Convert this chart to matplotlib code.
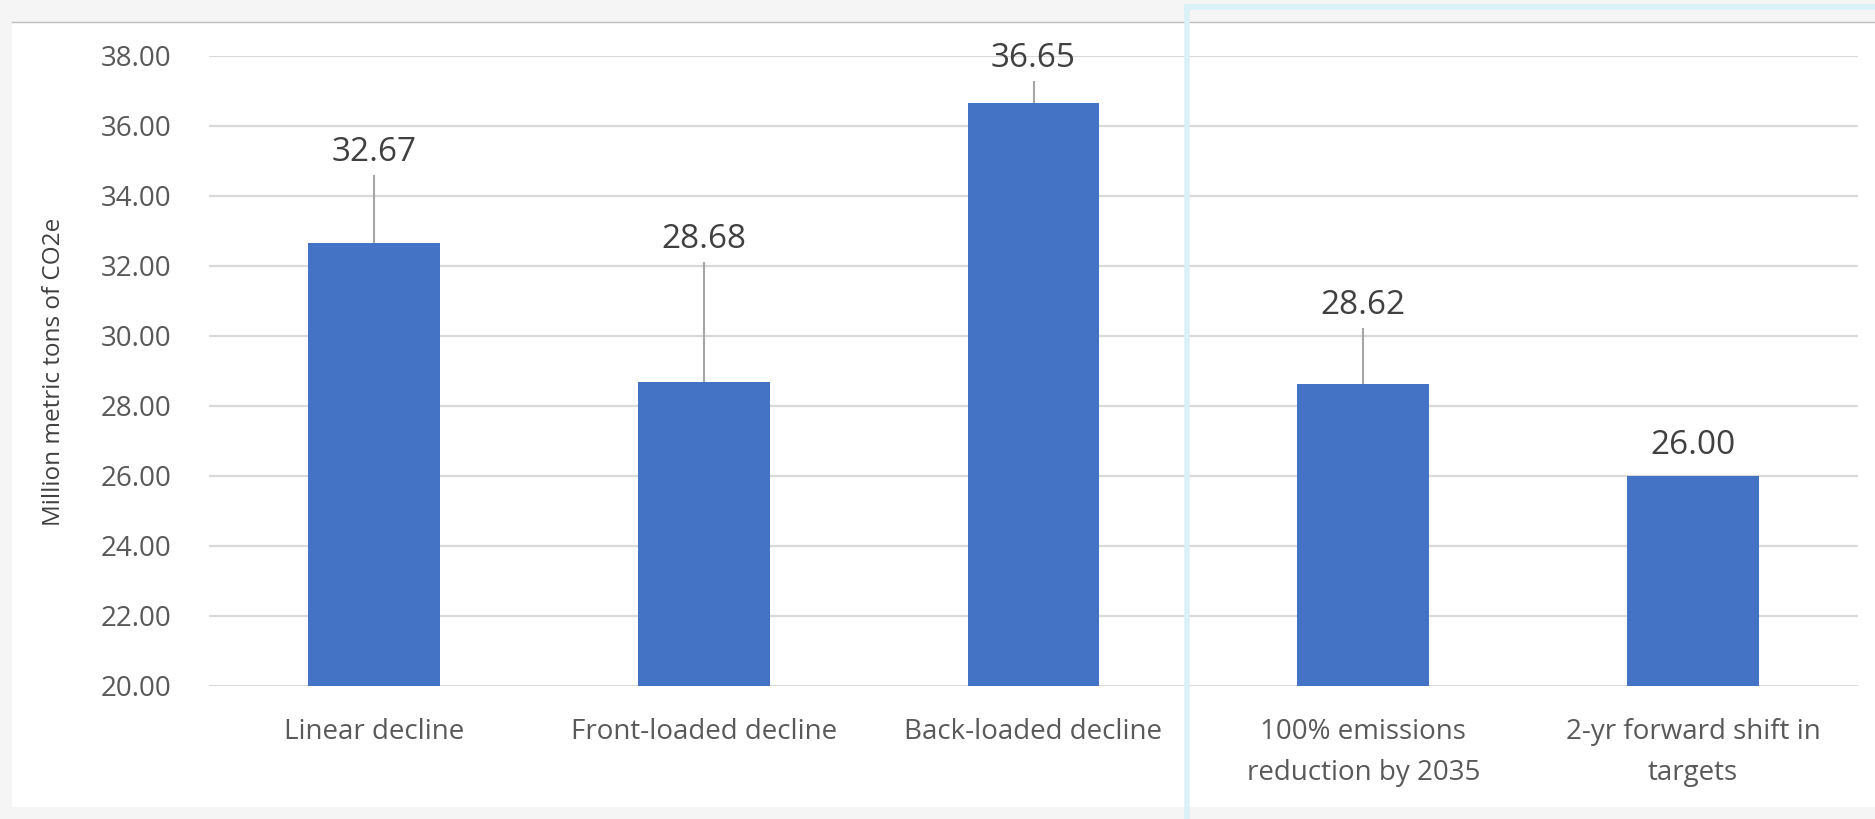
import matplotlib
matplotlib.use("Agg")
import matplotlib.pyplot as plt
from matplotlib.lines import Line2D
from matplotlib.patches import Rectangle

plt.rcParams['font.family'] = ['Open Sans', 'DejaVu Sans']

# Emisiones por escenario
escenarios = [
    "Linear decline",
    "Front-loaded decline",
    "Back-loaded decline",
    "100% emissions\nreduction by 2035",
    "2-yr forward shift in\ntargets",
]
emisiones = [32.67, 28.68, 36.65, 28.62, 26.00]
error_sup = [1.93, 3.43, 0.64, 1.60, 0.0]
ticks_y = [20, 22, 24, 26, 28, 30, 32, 34, 36, 38]

W, H = 1875, 819
fig = plt.figure(figsize=(W / 100, H / 100), dpi=100, facecolor="#f5f5f5")

# Área blanca del gráfico (por debajo de los ejes)
fig.patches.append(Rectangle((12 / W, 1 - 807 / H), 1 - 12 / W, (807 - 22) / H,
                             transform=fig.transFigure, facecolor="white",
                             edgecolor="none", zorder=-10))
fig.lines.append(Line2D([12 / W, 1], [1 - 22 / H, 1 - 22 / H], transform=fig.transFigure,
                        color="#bdbdbd", lw=1.0, zorder=-5))

ax = fig.add_axes([209 / W, 1 - 686 / H, (1858 - 209) / W, (686 - 56) / H])
ax.set_facecolor("none")

x = list(range(len(escenarios)))
ax.bar(x, emisiones, width=0.4, bottom=0, color="#4472c4", zorder=3)
ax.errorbar(x, emisiones, yerr=[[0] * len(x), error_sup], fmt="none",
            ecolor="#a6a6a6", elinewidth=1.5, capsize=0, zorder=2)

for xi, v, e in zip(x, emisiones, error_sup):
    off = 10 if e > 0 else 16
    ax.annotate(f"{v:.2f}", xy=(xi, v + e), xytext=(0, off), textcoords="offset points",
                ha="center", va="baseline", fontsize=24, color="#404040")

ax.set_xlim(-0.5, len(x) - 0.5)
ax.set_ylim(20, 38)
ax.set_yticks(ticks_y)
ax.set_yticklabels([f"{t:.2f}" for t in ticks_y])
ax.set_xticks(x)
ax.set_xticklabels(escenarios, linespacing=1.6)
ax.tick_params(axis="y", length=0, pad=27, labelsize=20, labelcolor="#595959")
ax.tick_params(axis="x", length=0, pad=23, labelsize=20, labelcolor="#595959")
ax.grid(axis="y", color="#d9d9d9", lw=1.6, zorder=0)
ax.set_axisbelow(True)
for s in ax.spines.values():
    s.set_visible(False)

ax.set_ylabel("Million metric tons of CO2e", fontsize=17.5, color="#404040")
ax.yaxis.set_label_coords(-0.087, (686 - 372) / (686 - 56))

# Recuadro celeste sobre los dos últimos escenarios
fig.lines.append(Line2D([1187 / W, 1187 / W], [0, 1 - 7 / H], transform=fig.transFigure,
                        color="#daf1f8", lw=4, zorder=5))
fig.lines.append(Line2D([1187 / W, 1], [1 - 7 / H, 1 - 7 / H], transform=fig.transFigure,
                        color="#daf1f8", lw=4, zorder=5))

fig.savefig("out.png", dpi=100, facecolor=fig.get_facecolor())
